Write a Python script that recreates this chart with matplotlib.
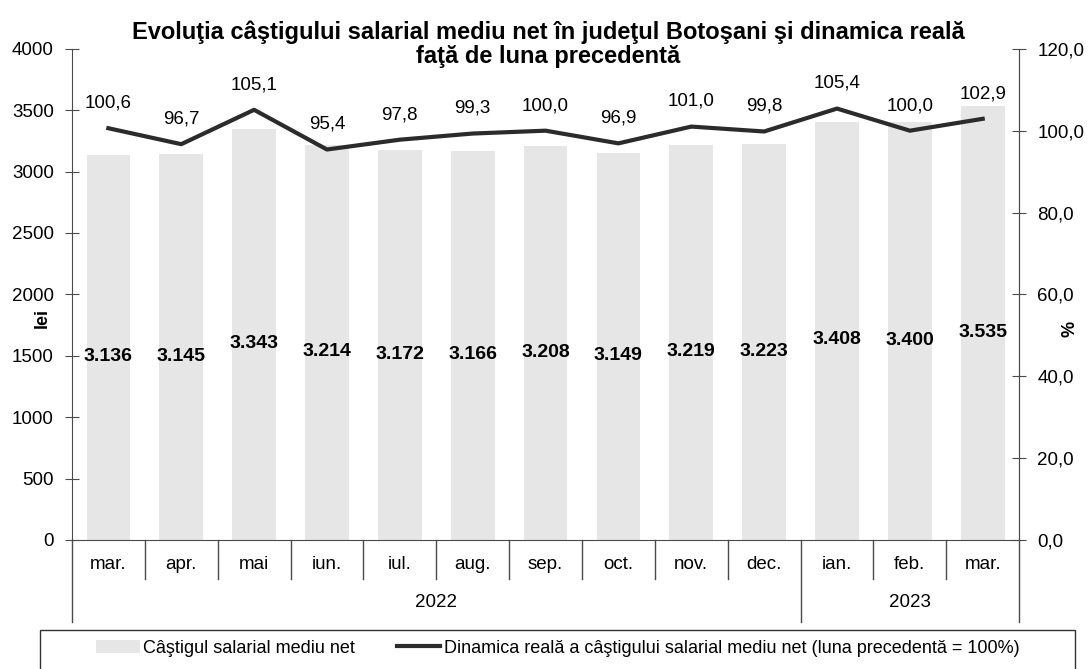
import matplotlib
matplotlib.use("Agg")
import matplotlib.pyplot as plt
from matplotlib.patches import Patch, Rectangle
from matplotlib.lines import Line2D

plt.rcParams['font.family'] = ['Liberation Sans', 'DejaVu Sans']

months = ['mar.', 'apr.', 'mai', 'iun.', 'iul.', 'aug.', 'sep.', 'oct.', 'nov.', 'dec.', 'ian.', 'feb.', 'mar.']
years = ['2022', '2023']
year_counts = [10, 3]
salary = [3136, 3145, 3343, 3214, 3172, 3166, 3208, 3149, 3219, 3223, 3408, 3400, 3535]
dynamics = [100.6, 96.7, 105.1, 95.4, 97.8, 99.3, 100.0, 96.9, 101.0, 99.8, 105.4, 100.0, 102.9]

bar_color = '#e6e6e6'
line_color = '#2b2b2b'
axis_color = '#4a4a4a'

fig = plt.figure(figsize=(10.9, 6.69), dpi=100)
ax = fig.add_axes([0.066, 0.193, 0.869, 0.734])
ax2 = ax.twinx()

x = list(range(len(months)))
ax.bar(x, salary, width=0.6, color=bar_color, zorder=1)
ax.set_xlim(-0.5, len(months) - 0.5)
ax.set_ylim(0, 4000)
ax.set_yticks(range(0, 4001, 500))
ax.tick_params(axis='y', direction='inout', length=10, labelsize=13.5, pad=8, color=axis_color)
ax.set_xticks([])

# bar labels, roughly in the middle of each bar
for xi, v in zip(x, salary):
    lbl = '{:,}'.format(v).replace(',', '.')
    ax.text(xi, v / 2 - 75, lbl, ha='center', va='center', fontsize=14, fontweight='bold', zorder=3)

ax2.plot(x, dynamics, color=line_color, lw=3, zorder=4)
ax2.set_ylim(0, 120)
ax2.set_yticks(range(0, 121, 20))
ax2.set_yticklabels(['{:.1f}'.format(t).replace('.', ',') for t in range(0, 121, 20)])
ax2.tick_params(axis='y', direction='inout', length=10, labelsize=13.5, pad=8, color=axis_color)
for xi, v in zip(x, dynamics):
    ax2.annotate('{:.1f}'.format(v).replace('.', ','), (xi, v), xytext=(0, 12),
                 textcoords='offset points', ha='center', va='bottom', fontsize=13.5)

for a in (ax, ax2):
    a.spines['top'].set_visible(False)
    for s in ('left', 'right', 'bottom'):
        a.spines[s].set_color(axis_color)
ax2.spines['left'].set_visible(False)
ax2.spines['bottom'].set_visible(False)

ax.set_ylabel('lei', fontsize=13, fontweight='bold')
ax.yaxis.set_label_coords(-0.022, 0.452)
ax2.set_ylabel('%', fontsize=13, fontweight='bold')
ax2.yaxis.set_label_coords(1.045, 0.43)

# month / year rows under the axis
tr = ax.get_xaxis_transform()
for xi, m in zip(x, months):
    ax.text(xi, -0.05, m, transform=tr, ha='center', va='center', fontsize=13.5)
bounds = [0]
for c in year_counts:
    bounds.append(bounds[-1] + c)
for i in range(len(months) + 1):
    y_end = -0.167 if i in bounds else -0.08
    ax.plot([i - 0.5, i - 0.5], [0, y_end], transform=tr, color=axis_color, lw=1, clip_on=False)
for yr, a_, b_ in zip(years, bounds[:-1], bounds[1:]):
    ax.text((a_ + b_ - 1) / 2, -0.128, yr, transform=tr, ha='center', va='center', fontsize=13.5)

fig.text(0.503, 0.934, 'Evoluţia câştigului salarial mediu net în judeţul Botoşani şi dinamica reală\nfaţă de luna precedentă',
         ha='center', va='center', fontsize=17, fontweight='bold', linespacing=1.05)

# legend with an open-bottomed frame
fig.add_artist(Rectangle((40 / 1090, -0.02), 1035 / 1090, 0.078, transform=fig.transFigure,
                         fill=False, edgecolor='#333333', lw=1))
handles = [Patch(facecolor=bar_color, edgecolor='none'), Line2D([0], [0], color=line_color, lw=3)]
labels = ['Câştigul salarial mediu net', 'Dinamica reală a câştigului salarial mediu net (luna precedentă = 100%)']
fig.legend(handles, labels, loc='center left', bbox_to_anchor=(0.08, 0.031), ncol=2,
           fontsize=13, frameon=False, borderpad=0, columnspacing=2.3,
           handlelength=2.4, handletextpad=0.2)

fig.savefig('out.png', dpi=100)
